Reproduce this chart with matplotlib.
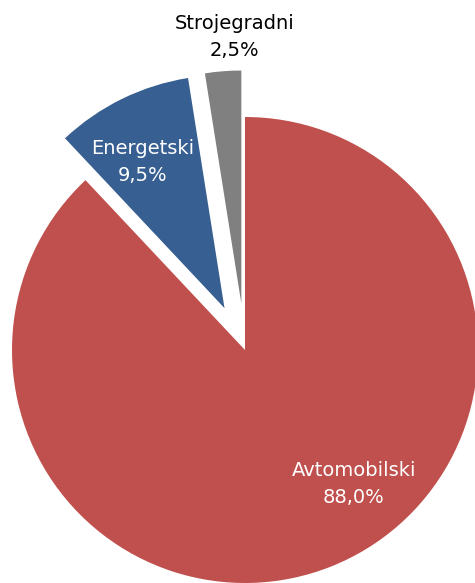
import numpy as np
import matplotlib.pyplot as plt

labels = ["Avtomobilski", "Energetski", "Strojegradni"]
shares = [88.0, 9.5, 2.5]
colors = ["#C0504D", "#375F91", "#808080"]
explode = [0.0, 0.2, 0.2]

# label placement per wedge: (distance from wedge apex, angle in degrees)
label_pos = [(0.741, -50.9), (0.718, 119.2), (1.144, 91.4)]
label_colors = ["white", "white", "black"]

W, H, DPI = 475, 583, 100
cx, cy, R = 245, 233, 233  # pie centre and radius in pixels

fig = plt.figure(figsize=(W / DPI, H / DPI), dpi=DPI)
ax = fig.add_axes([0, 0, 1, 1])

wedges, _ = ax.pie(shares, colors=colors, explode=explode, startangle=90,
                   counterclock=False, radius=1.0,
                   wedgeprops=dict(linewidth=0))

ax.set_aspect("auto")
ax.set_xlim(-cx / R, (W - cx) / R)
ax.set_ylim(-cy / R, (H - cy) / R)
ax.axis("off")

for w, name, val, (d, ang), tc in zip(wedges, labels, shares, label_pos, label_colors):
    x0, y0 = w.center
    x = x0 + d * np.cos(np.radians(ang))
    y = y0 + d * np.sin(np.radians(ang))
    txt = f"{name}\n{val:.1f}%".replace(".", ",")
    ax.text(x, y, txt, ha="center", va="center", color=tc,
            fontsize=14, family="DejaVu Sans", linespacing=1.5)

fig.savefig("out.png", dpi=DPI)
